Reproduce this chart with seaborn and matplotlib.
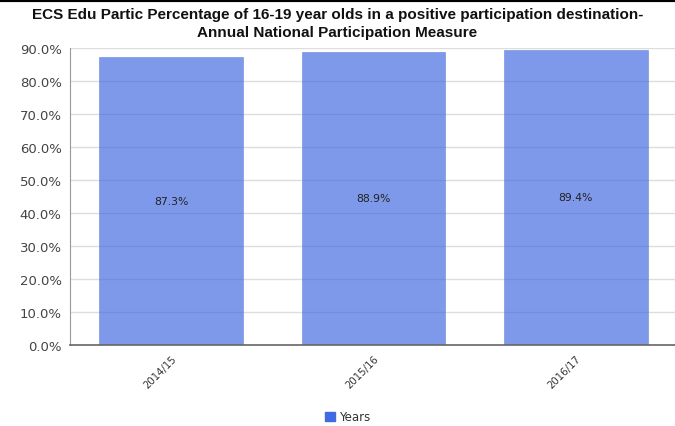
import matplotlib
matplotlib.use("Agg")
import matplotlib.pyplot as plt
import seaborn as sns
import pandas as pd
from matplotlib.lines import Line2D
from matplotlib.patches import Patch

years = ["2014/15", "2015/16", "2016/17"]
values = [87.3, 88.9, 89.4]
yticks = [0, 10, 20, 30, 40, 50, 60, 70, 80, 90]
title = "ECS Edu Partic Percentage of 16-19 year olds in a positive participation destination-\nAnnual National Participation Measure"

df = pd.DataFrame({"Year": years, "Value": values})

sns.set_style("white")
plt.rcParams['font.family'] = ['DejaVu Sans']

fig = plt.figure(figsize=(6.75, 4.27), dpi=100)
ax = fig.add_axes([70/675, 1 - 346/427, (677-70)/675, (346-49)/427])

sns.barplot(data=df, x="Year", y="Value", color="#4169E1", alpha=0.68,
            width=0.71, ax=ax, saturation=1, zorder=2)
for p in ax.patches:
    p.set_edgecolor("#6a86e0")
    p.set_linewidth(0.6)

ax.set_ylim(0, 90)
ax.set_yticks(yticks)
ax.set_yticklabels([f"{v:.1f}%" for v in yticks], fontsize=9.5, color="#444444")
ax.yaxis.grid(True, color="#dddddd", linewidth=1, zorder=1)
ax.set_axisbelow(True)
ax.set_xlabel("")
ax.set_ylabel("")
ax.set_xlim(-0.5, 2.5)
ax.tick_params(axis="y", length=3, color="#888888", pad=3)
ax.tick_params(axis="x", length=4, color="#888888", pad=2)
ax.set_xticklabels(years, rotation=45, ha="right", rotation_mode="anchor", fontsize=7.3, color="#333333")
for s in ["top", "right"]:
    ax.spines[s].set_visible(False)
ax.spines["left"].set_color("#999999")
ax.spines["bottom"].set_color("#666666")
ax.spines["bottom"].set_linewidth(1.2)

for i, v in enumerate(values):
    ax.text(i, v / 2, f"{v}%", ha="center", va="center", fontsize=7.8, color="#222222")

fig.text(0.5, 1 - 24/427, title, ha="center", va="center", fontsize=11,
         fontweight="bold", linespacing=1.3, color="#111111",
         family=["Liberation Sans", "DejaVu Sans"])

fig.add_artist(Line2D([0, 1], [1 - 1/427, 1 - 1/427], color="black", linewidth=3,
                      transform=fig.transFigure))

handles = [Patch(facecolor="#4169E1", edgecolor="#4169E1", label="Years")]
fig.legend(handles=handles, loc="center", bbox_to_anchor=(348/675, 1 - 418/427),
           frameon=False, fontsize=8.5, handlelength=0.8, handleheight=0.8,
           handletextpad=0.4, labelcolor="#333333")

fig.savefig("out.png", dpi=100)
